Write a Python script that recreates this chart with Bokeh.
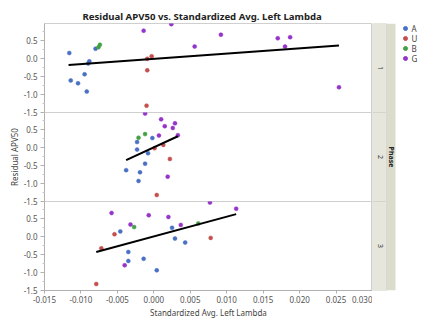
import math
from bokeh.plotting import figure
from bokeh.layouts import row, column
from bokeh.models import (Range1d, FixedTicker, PrintfTickFormatter, Title)
from bokeh.core.properties import value
from bokeh.embed import file_html
from bokeh.resources import INLINE

# ---------------- data ----------------
phases = ["1", "2", "3"]
groups = ["A", "U", "B", "G"]
group_colors = ["#4a70c4", "#c4504e", "#44a044", "#9434c8"]

# Phase 1
p1_A_x = [-0.0116, -0.0114, -0.0104, -0.0095, -0.0092, -0.0090, -0.00885, -0.0080]
p1_A_y = [0.15, -0.61, -0.69, -0.44, -0.92, -0.14, -0.08, 0.27]
p1_U_x = [-0.0009, -0.0003, -0.0009, -0.0010]
p1_U_y = [-0.01, 0.06, -0.33, -1.31]
p1_B_x = [-0.0076, -0.0074]
p1_B_y = [0.31, 0.38]
p1_G_x = [-0.0014, 0.0024, 0.0056, 0.0092, 0.0170, 0.0180, 0.0187, 0.0254]
p1_G_y = [0.77, 0.95, 0.33, 0.66, 0.56, 0.33, 0.59, -0.80]
p1_fit_x = [-0.0117, 0.0254]
p1_fit_y = [-0.18, 0.36]

# Phase 2
p2_A_x = [-0.0023, -0.0002, -0.0023, -0.0008, -0.0012, -0.0038, -0.0019, -0.0021]
p2_A_y = [0.15, 0.26, -0.06, -0.16, -0.45, -0.63, -0.69, -0.93]
p2_U_x = [0.0001, 0.0013, 0.0022, 0.0004]
p2_U_y = [-0.02, 0.07, -0.32, -1.32]
p2_B_x = [-0.0021, -0.0012]
p2_B_y = [0.27, 0.37]
p2_G_x = [-0.0012, 0.0010, 0.0015, 0.0029, 0.0026, 0.0033, 0.0007, 0.0019]
p2_G_y = [0.94, 0.78, 0.59, 0.67, 0.54, 0.34, 0.33, -0.81]
p2_fit_x = [-0.0038, 0.0033]
p2_fit_y = [-0.35, 0.31]

# Phase 3
p3_A_x = [-0.0046, 0.0025, 0.0029, 0.0043, -0.0035, -0.0035, -0.0014, 0.0004]
p3_A_y = [0.14, 0.24, -0.06, -0.17, -0.43, -0.68, -0.62, -0.94]
p3_U_x = [-0.0054, -0.0072, 0.0078, -0.0079]
p3_U_y = [0.06, -0.33, -0.04, -1.32]
p3_B_x = [-0.0027, 0.0061]
p3_B_y = [0.26, 0.36]
p3_G_x = [0.0077, 0.0113, -0.0058, -0.0007, 0.0020, -0.0032, 0.0037, -0.0040]
p3_G_y = [0.94, 0.77, 0.65, 0.59, 0.54, 0.33, 0.32, -0.80]
p3_fit_x = [-0.0079, 0.0113]
p3_fit_y = [-0.43, 0.62]

x_ticks = [-0.015, -0.010, -0.005, 0.000, 0.005, 0.010, 0.015, 0.020, 0.025, 0.030]
y_ticks = [-1.5, -1.0, -0.5, 0.0, 0.5]

panel_data = [
    ([(p1_A_x, p1_A_y), (p1_U_x, p1_U_y), (p1_B_x, p1_B_y), (p1_G_x, p1_G_y)], (p1_fit_x, p1_fit_y)),
    ([(p2_A_x, p2_A_y), (p2_U_x, p2_U_y), (p2_B_x, p2_B_y), (p2_G_x, p2_G_y)], (p2_fit_x, p2_fit_y)),
    ([(p3_A_x, p3_A_y), (p3_U_x, p3_U_y), (p3_B_x, p3_B_y), (p3_G_x, p3_G_y)], (p3_fit_x, p3_fit_y)),
]

FONT = "Noto Sans"
TOP = 23
BOTTOM = 29
LEFT = 44
FW = 328
FH = 89
OV = 6  # overlap so boundary tick labels are not cut

xr = Range1d(-0.015, 0.030)
figs = []
for i, (series, fit) in enumerate(panel_data):
    kw = dict(output_backend="svg", toolbar_location=None,
              frame_width=FW, frame_height=FH,
              x_range=xr, y_range=Range1d(-1.5, 0.97),
              min_border_left=LEFT, min_border_right=0,
              min_border_top=0, min_border_bottom=0)
    if i < 2:
        kw["x_axis_location"] = None
    p = figure(**kw)
    p.border_fill_alpha = 0
    p.background_fill_alpha = 0
    if i < 2:
        p.min_border_bottom = OV
    if i > 0:
        p.margin = (-OV, 0, 0, 0)
    if i == 0:
        p.min_border_top = TOP
        p.title = Title(text="Residual APV50 vs. Standardized Avg. Left Lambda",
                        align="left", offset=38, standoff=2,
                        text_font=FONT, text_font_size="9.6px", text_font_style="bold",
                        text_color="#222222")
    if i == 2:
        p.min_border_bottom = BOTTOM
        p.xaxis.ticker = FixedTicker(ticks=x_ticks)
        p.xaxis.formatter = PrintfTickFormatter(format="%.3f")
        p.xaxis.axis_label = "Standardized Avg. Left Lambda"
        p.xaxis.axis_label_text_font = FONT
        p.xaxis.axis_label_text_font_size = "8px"
        p.xaxis.axis_label_text_font_style = "normal"
        p.xaxis.axis_label_text_color = "#444444"
        p.xaxis.axis_label_standoff = 1
        p.xaxis.major_label_text_font = FONT
        p.xaxis.major_label_text_font_size = "8px"
        p.xaxis.major_label_text_color = "#555555"
        p.xaxis.major_label_standoff = 2
        p.xaxis.major_tick_out = 3
        p.xaxis.major_tick_in = 0
        p.xaxis.minor_tick_line_color = None
        p.xaxis.axis_line_color = "#b0b0b0"
        p.xaxis.major_tick_line_color = "#b0b0b0"
    p.yaxis.ticker = FixedTicker(ticks=y_ticks, minor_ticks=[-1.25, -0.75, -0.25, 0.25, 0.75])
    p.yaxis.formatter = PrintfTickFormatter(format="%.1f")
    p.yaxis.major_label_text_font = FONT
    p.yaxis.major_label_text_font_size = "8px"
    p.yaxis.major_label_text_color = "#555555"
    p.yaxis.major_label_standoff = 3
    p.yaxis.major_tick_out = 4
    p.yaxis.major_tick_in = 0
    p.yaxis.minor_tick_out = 2
    p.yaxis.minor_tick_in = 0
    p.yaxis.axis_line_color = "#b0b0b0"
    p.yaxis.major_tick_line_color = "#b0b0b0"
    p.yaxis.minor_tick_line_color = "#c8c8c8"
    if i == 1:
        p.yaxis.axis_label = "Residual APV50"
        p.yaxis.axis_label_text_font = FONT
        p.yaxis.axis_label_text_font_size = "8px"
        p.yaxis.axis_label_text_font_style = "normal"
        p.yaxis.axis_label_text_color = "#444444"
        p.yaxis.axis_label_standoff = 1
    p.xgrid.visible = False
    p.ygrid.visible = False
    p.outline_line_color = "#cfcfcf"
    p.outline_line_width = 1
    for (gx, gy), col in zip(series, group_colors):
        p.scatter(gx, gy, size=4, color=col, line_width=0.5)
    p.line(fit[0], fit[1], line_color="black", line_width=2)
    figs.append(p)

# ---------------- strip (Phase labels) + legend ----------------
SW = 50
s = figure(output_backend="svg", toolbar_location=None,
           frame_width=SW, frame_height=3 * FH,
           x_range=Range1d(0, SW), y_range=Range1d(0, 3 * FH),
           x_axis_location=None, y_axis_location=None,
           min_border_left=0, min_border_right=0,
           min_border_top=TOP, min_border_bottom=BOTTOM)
s.xgrid.visible = False
s.ygrid.visible = False
s.outline_line_color = None
s.border_fill_alpha = 0
s.background_fill_alpha = 0
n = len(phases)
s.quad(left=[0] * n, right=[14] * n, bottom=[(n - 1 - k) * FH for k in range(n)],
       top=[(n - k) * FH for k in range(n)], fill_color="#e6e6dc", line_color="#d4d4c8", line_width=1)
s.quad(left=[14], right=[23], bottom=[0], top=[n * FH], fill_color="#dcdccd", line_color=None)
s.text(x=[7.5] * n, y=[(n - 0.5 - k) * FH for k in range(n)], text=phases, angle=-math.pi / 2,
       text_align="center", text_baseline="middle", text_font=value(FONT),
       text_font_size="7px", text_color="#333333")
s.text(x=[18.5], y=[n * FH / 2], text=["Phase"], angle=-math.pi / 2,
       text_align="center", text_baseline="middle", text_font=value(FONT),
       text_font_size="7px", text_font_style="bold", text_color="#222222")

# legend (marker + label per group)
leg_y = [n * FH - 5 - 10 * k for k in range(len(groups))]
s.scatter(x=[33] * len(groups), y=leg_y, size=4, color=group_colors)
s.text(x=[39] * len(groups), y=leg_y, text=groups, text_align="left", text_baseline="middle",
       text_font=value(FONT), text_font_size="8px", text_color="#444444")

layout = row(column(*figs, spacing=0), s, spacing=0)
open("out.html", "w").write(file_html(layout, INLINE))
